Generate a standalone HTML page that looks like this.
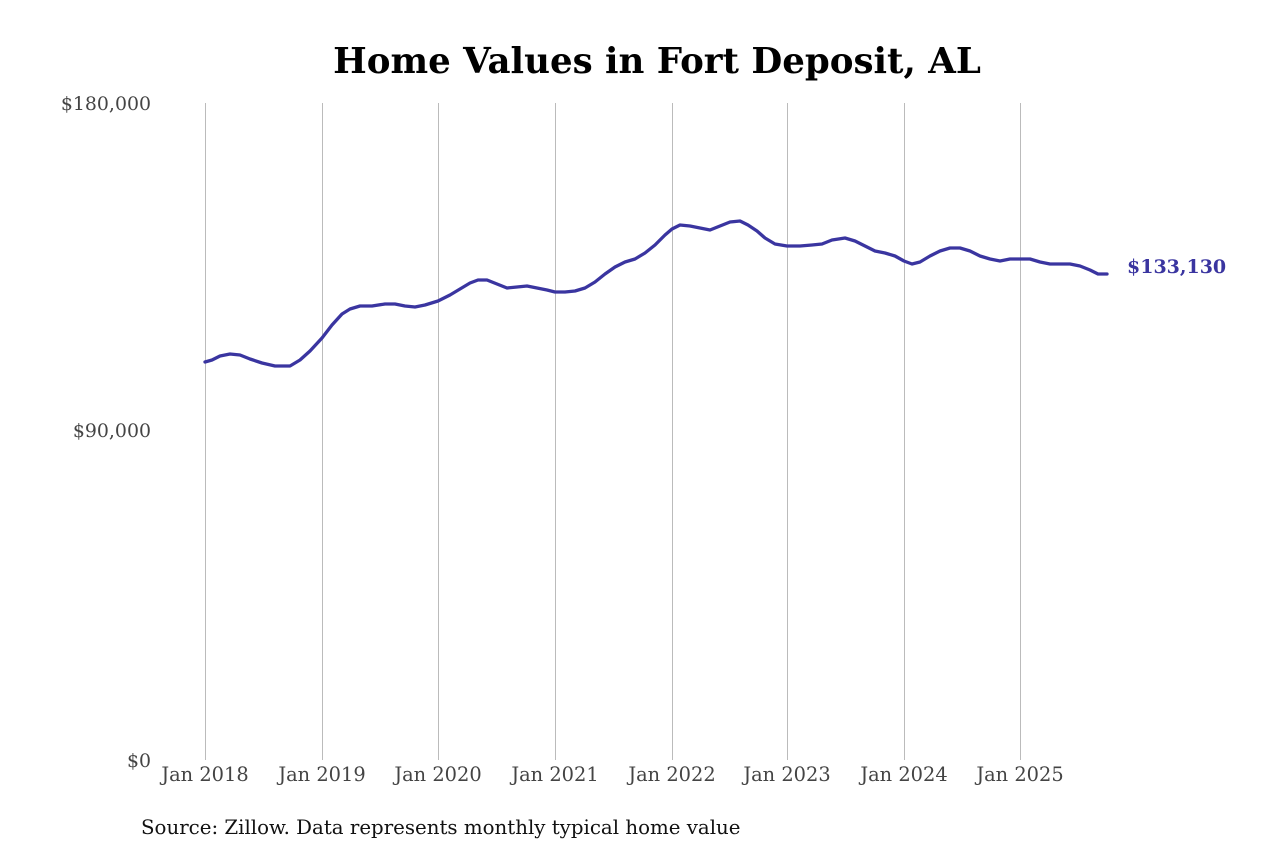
<!DOCTYPE html>
<html><head><meta charset="utf-8"><style>
html,body{margin:0;padding:0;background:#fff;}
svg{display:block;font-family:"DejaVu Serif","Liberation Serif",serif;}
</style></head><body>
<svg width="1280" height="853" viewBox="0 0 1280 853" xmlns="http://www.w3.org/2000/svg">
<rect width="1280" height="853" fill="#fff"/>
<text x="657" y="73" text-anchor="middle" font-size="35.6" font-weight="bold" fill="#000">Home Values in Fort Deposit, AL</text>
<g stroke="#bbb" stroke-width="1">
<line x1="205.5" y1="103" x2="205.5" y2="760"/>
<line x1="322.5" y1="103" x2="322.5" y2="760"/>
<line x1="438.5" y1="103" x2="438.5" y2="760"/>
<line x1="555.5" y1="103" x2="555.5" y2="760"/>
<line x1="672.5" y1="103" x2="672.5" y2="760"/>
<line x1="787.5" y1="103" x2="787.5" y2="760"/>
<line x1="904.5" y1="103" x2="904.5" y2="760"/>
<line x1="1020.5" y1="103" x2="1020.5" y2="760"/>
</g>
<g font-size="18.9" fill="#444" text-anchor="end">
<text x="151" y="110">$180,000</text>
<text x="151" y="437">$90,000</text>
<text x="151" y="767">$0</text>
</g>
<g font-size="19.4" fill="#444" text-anchor="middle">
<text x="205" y="781">Jan 2018</text>
<text x="322" y="781">Jan 2019</text>
<text x="438" y="781">Jan 2020</text>
<text x="555" y="781">Jan 2021</text>
<text x="672" y="781">Jan 2022</text>
<text x="787" y="781">Jan 2023</text>
<text x="904" y="781">Jan 2024</text>
<text x="1020" y="781">Jan 2025</text>
</g>
<polyline fill="none" stroke="#3a35a0" stroke-width="3.3" stroke-linejoin="round" stroke-linecap="round" points="205,362 212,360 220,356 230,354 240,355 250,359 262,363 275,366 290,366 300,360 310,351 322,338 332,325 342,314 350,309 360,306 372,306 385,304 395,304 405,306 415,307 425,305 438,301 450,295 460,289 470,283 478,280 487,280 497,284 507,288 517,287 527,286 537,288 547,290 555,292 565,292 575,291 585,288 595,282 605,274 615,267 625,262 635,259 645,253 655,245 665,235 672,229 680,225 690,226 700,228 710,230 720,226 730,222 740,221 748,225 757,231 765,238 775,244 787,246 800,246 812,245 822,244 832,240 845,238 855,241 865,246 875,251 885,253 895,256 904,261 912,264 920,262 930,256 940,251 950,248 960,248 970,251 980,256 990,259 1000,261 1010,259 1020,259 1030,259 1040,262 1050,264 1060,264 1070,264 1080,266 1090,270 1098,274 1107,274"/>
<text x="1127" y="273" font-size="19" font-weight="bold" fill="#3a35a0">$133,130</text>
<text x="141" y="834" font-size="19.8" fill="#111">Source: Zillow. Data represents monthly typical home value</text>
</svg>
</body></html>
